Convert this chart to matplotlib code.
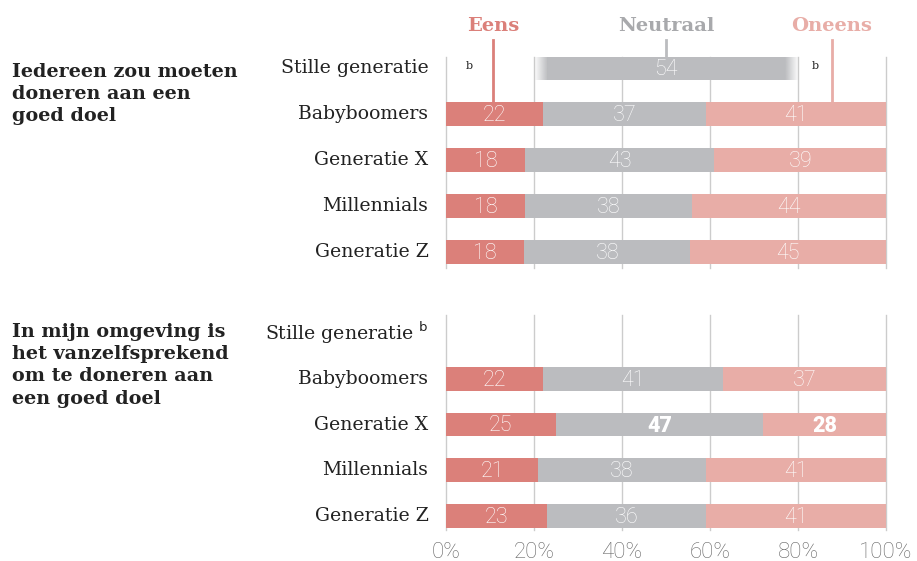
import numpy as np
import matplotlib
matplotlib.use("Agg")
import matplotlib.pyplot as plt

groups = ["Stille generatie", "Babyboomers", "Generatie X", "Millennials", "Generatie Z"]

q1_title = "Iedereen zou moeten\ndoneren aan een\ngoed doel"
q1_eens = [None, 22, 18, 18, 18]
q1_neutraal = [54, 37, 43, 38, 38]
q1_oneens = [None, 41, 39, 44, 45]

q2_title = "In mijn omgeving is\nhet vanzelfsprekend\nom te doneren aan\neen goed doel"
q2_eens = [None, 22, 25, 21, 23]
q2_neutraal = [None, 41, 47, 38, 36]
q2_oneens = [None, 37, 28, 41, 41]
q2_bold = [(2, 1), (2, 2)]  # (row, segment) printed in bold

ticks = [0, 20, 40, 60, 80, 100]
tick_labels = ["0%", "20%", "40%", "60%", "80%", "100%"]

RED = "#db807a"
GRAY = "#bbbcbf"
PINK = "#e8ada7"
GRID = "#cccccc"
SERIF = "DejaVu Serif"
SANS = "Roboto"
NUM_SIZE = 15.5

W, H = 917, 561
fig = plt.figure(figsize=(W / 100, H / 100), dpi=100)


def px_axes(x0, y0, x1, y1):
    return fig.add_axes([x0 / W, 1 - y1 / H, (x1 - x0) / W, (y1 - y0) / H])


def draw_panel(ax, eens, neutraal, oneens, ylim, bold=()):
    ax.set_xlim(0, 100)
    ax.set_ylim(*ylim)
    for t in ticks:
        ax.axvline(t, color=GRID, lw=1, zorder=0, clip_on=False)
    for s in ax.spines.values():
        s.set_visible(False)
    ax.set_yticks([])
    ax.set_xticks([])
    for i in range(len(groups)):
        if eens[i] is None:
            continue
        vals = [eens[i], neutraal[i], oneens[i]]
        tot = sum(vals)
        left = 0
        for j, (v, c) in enumerate(zip(vals, [RED, GRAY, PINK])):
            w = v / tot * 100
            ax.barh(i, w, left=left, height=0.52, color=c, zorder=2)
            b = (i, j) in bold
            ax.text(left + w / 2, i + 0.03, str(v), ha="center", va="center",
                    color="white", fontsize=NUM_SIZE, family=SANS,
                    fontweight="black" if b else "light", zorder=3)
            left += w


ax1 = px_axes(446, 57, 886, 268)
draw_panel(ax1, q1_eens, q1_neutraal, q1_oneens, (4.35, -0.24))
ax2 = px_axes(446, 315, 886, 530)
draw_panel(ax2, q2_eens, q2_neutraal, q2_oneens, (4.3, -0.39), q2_bold)

# Stille generatie (top panel): neutral only, faded edges
v = q1_neutraal[0]
l, r = 50 - v / 2, 50 + v / 2
ax1.barh(0, r - l, left=l, height=0.52, color=GRAY, zorder=2)
rgb = matplotlib.colors.to_rgb(GRAY)
fade = 3
for x0, x1, rev in [(l - fade, l, False), (r, r + fade, True)]:
    a = np.linspace(0, 1, 50)
    if rev:
        a = a[::-1]
    img = np.zeros((1, 50, 4))
    img[..., :3] = rgb
    img[..., 3] = a
    ax1.imshow(img, extent=(x0, x1, 0.26, -0.26), aspect="auto", zorder=2,
               interpolation="bilinear")
ax1.set_xlim(0, 100)
ax1.set_ylim(4.35, -0.24)
ax1.text(50, 0.03, str(v), ha="center", va="center", color="white",
         fontsize=NUM_SIZE, family=SANS, fontweight="light", zorder=3)
ax1.text(5.2, -0.05, "b", ha="center", va="center", fontsize=8, family=SERIF, color="#222222")
ax1.text(84, -0.05, "b", ha="center", va="center", fontsize=8, family=SERIF, color="#222222")

# category labels
for ax, marks in [(ax1, ["", "", "", "", ""]), (ax2, ["b", "", "", "", ""])]:
    for i, g in enumerate(groups):
        lab = g + (r" $^{\mathrm{" + marks[i] + "}}$" if marks[i] else "")
        ax.text(-4, i, lab, ha="right", va="center", fontsize=13.6,
                family=SERIF, color="#222222", transform=ax.transData, clip_on=False)

# panel titles
fig.text(12 / W, 1 - 63 / H, q1_title, ha="left", va="top", fontsize=13.8,
         fontweight="bold", family=SERIF, color="#222222", linespacing=1.3)
fig.text(12 / W, 1 - 323 / H, q2_title, ha="left", va="top", fontsize=13.8,
         fontweight="bold", family=SERIF, color="#222222", linespacing=1.3)

# header legend
for x, lab, c, tc, y_end in [(10.7, "Eens", RED, RED, 0.74),
                             (50, "Neutraal", GRAY, "#a8a9ac", -0.26),
                             (87.7, "Oneens", PINK, PINK, 0.74)]:
    ax1.text(x, -0.92, lab, ha="center", va="center", fontsize=14, fontweight="bold",
             family=SERIF, color=tc, clip_on=False)
    ax1.plot([x, x], [-0.6, y_end], color=c, lw=2, clip_on=False, zorder=1)

# x tick labels
for t, tl in zip(ticks, tick_labels):
    ax2.text(t, 4.78, tl, ha="center", va="center", fontsize=16, family=SANS,
             fontweight="light", color="#666666", clip_on=False)

fig.savefig("out.png", dpi=100)
